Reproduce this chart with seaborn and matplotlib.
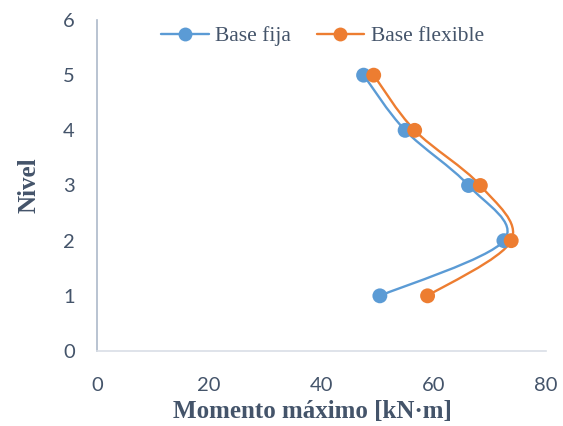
import numpy as np
import pandas as pd
import seaborn as sns
import matplotlib.pyplot as plt
from matplotlib.path import Path
from matplotlib.patches import PathPatch
from matplotlib.lines import Line2D

# values
nivel = [1, 2, 3, 4, 5]
momento_fija = [50.4, 72.5, 66.2, 54.9, 47.5]
momento_flexible = [58.9, 73.8, 68.3, 56.6, 49.3]
series_names = ["Base fija", "Base flexible"]
colors = ["#5B9BD5", "#ED7D31"]

df = pd.DataFrame({
    "momento": momento_fija + momento_flexible,
    "nivel": nivel + nivel,
    "serie": [series_names[0]] * 5 + [series_names[1]] * 5,
})

sns.set_style("white")
txt = "#44546A"

fig = plt.figure(figsize=(5.63, 4.26), dpi=100)
ax = fig.add_axes([97 / 563, 1 - 351 / 426, 449 / 563, 331 / 426])


def smooth_path(xs, ys):
    # Excel-like smoothed line: Catmull-Rom segments as cubic Bezier
    pts = np.column_stack([xs, ys]).astype(float)
    n = len(pts)
    verts = [pts[0]]
    codes = [Path.MOVETO]
    for i in range(n - 1):
        p0 = pts[i - 1] if i > 0 else pts[i]
        p1, p2 = pts[i], pts[i + 1]
        p3 = pts[i + 2] if i + 2 < n else pts[i + 1]
        c1 = p1 + (p2 - p0) / 6
        c2 = p2 - (p3 - p1) / 6
        verts += [c1, c2, p2]
        codes += [Path.CURVE4] * 3
    return Path(verts, codes)


for name, col in zip(series_names, colors):
    sub = df[df["serie"] == name]
    ax.add_patch(PathPatch(smooth_path(sub["momento"], sub["nivel"]),
                           facecolor="none", edgecolor=col, lw=1.7, zorder=2))

sns.scatterplot(data=df, x="momento", y="nivel", hue="serie",
                palette=colors, s=115, edgecolor="none", legend=False,
                ax=ax, zorder=3)

ax.set_xlim(0, 80)
ax.set_ylim(0, 6)
ax.set_xticks([0, 20, 40, 60, 80])
ax.set_yticks([0, 1, 2, 3, 4, 5, 6])
ax.tick_params(length=0, labelsize=14.5, labelcolor=txt)
ax.tick_params(axis="x", pad=19)
ax.tick_params(axis="y", pad=16)
for lab in ax.get_xticklabels() + ax.get_yticklabels():
    lab.set_family("Lato")

for s in ["top", "right"]:
    ax.spines[s].set_visible(False)
ax.spines["left"].set_color("#ADB9CA")
ax.spines["left"].set_linewidth(1.2)
ax.spines["bottom"].set_color("#D9DEE6")
ax.spines["bottom"].set_linewidth(1.2)

ax.set_xlabel("Momento máximo [kN·m]", family="Liberation Serif",
              fontweight="bold", fontsize=18, color=txt, labelpad=4)
ax.xaxis.label.set_x(0.48)
ax.set_ylabel("Nivel", family="Liberation Serif", fontweight="bold",
              fontsize=18, color=txt, labelpad=16)

handles = [Line2D([0], [0], color=c, lw=1.7, marker="o", markersize=10,
                  markeredgewidth=0) for c in colors]
leg = ax.legend(handles, series_names, loc="upper center",
                bbox_to_anchor=(0.502, 1.04), ncol=2, frameon=False,
                prop={"family": "Liberation Serif", "size": 15.5},
                handlelength=2.2, columnspacing=1.2, handletextpad=0.3)
for t in leg.get_texts():
    t.set_color(txt)

fig.savefig("out.png", dpi=100)
